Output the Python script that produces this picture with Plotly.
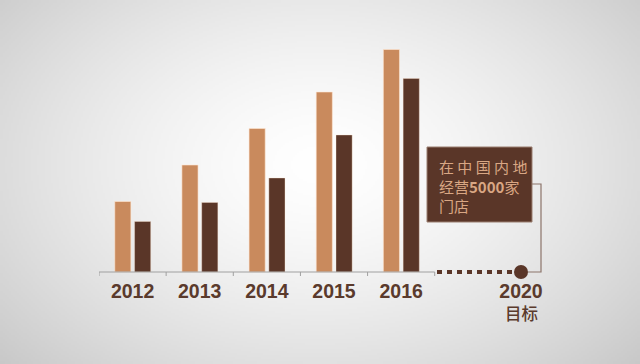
import base64, struct, zlib
import plotly.graph_objects as go

# ---------------- data ----------------
years = ["2012", "2013", "2014", "2015", "2016"]
series_a = [70.5, 107, 143.5, 180, 222.5]      # light bars
series_b = [50.5, 69.5, 94, 137, 193.5]        # dark bars
target_label = "2020"
target_sub = "目标"
target_text = "在 中 国 内 地<br>经营<b>5000</b>家<br>门店"

LIGHT = "#C98A5D"
DARK = "#5A3628"
TXT = "#5A3A2C"

# ---------------- background gradient (pure python png) ----------------
W, H = 320, 182
rows = []
for j in range(H):
    row = bytearray([0])
    y = (j + 0.5) * 364 / H
    for i in range(W):
        x = (i + 0.5) * 640 / W
        r = (((x - 320) / 380) ** 2 + ((y - 165) / 260) ** 2) ** 0.5
        v = 255 - 45 * min(r, 1.2) ** 1.5
        row.append(max(0, min(255, int(v))))
    rows.append(bytes(row))
raw = b"".join(rows)


def chunk(t, d):
    c = struct.pack(">I", len(d)) + t + d
    return c + struct.pack(">I", zlib.crc32(t + d) & 0xFFFFFFFF)


png = b"\x89PNG\r\n\x1a\n" + chunk(b"IHDR", struct.pack(">IIBBBBB", W, H, 8, 0, 0, 0, 0)) \
    + chunk(b"IDAT", zlib.compress(raw, 9)) + chunk(b"IEND", b"")
bg_uri = "data:image/png;base64," + base64.b64encode(png).decode()

# ---------------- layout geometry ----------------
BASE = 272            # pixel row of the baseline
YLOW = 5              # plot area extends a little below the baseline
ML, MR, MT, MB = 99, 71, 0, 364 - BASE - YLOW
PW = 640 - ML - MR
PH = 364 - MT - MB
XR = [-0.5, 6.5]
upx = (XR[1] - XR[0]) / PW


def xpx(px):
    return XR[0] + (px - ML) * upx


def ypx(py):
    return BASE - py


xs = list(range(len(years)))
x_target = xpx(521)

fig = go.Figure()
fig.add_trace(go.Bar(x=xs, y=series_a, width=0.24, offset=-0.265,
                     marker=dict(color=LIGHT, line=dict(color="rgba(255,230,210,0.6)", width=1)),
                     showlegend=False, hoverinfo="skip"))
fig.add_trace(go.Bar(x=xs, y=series_b, width=0.24, offset=0.03,
                     marker=dict(color=DARK, line=dict(color="rgba(255,230,210,0.35)", width=1)),
                     showlegend=False, hoverinfo="skip"))

shapes = [
    # axis line
    dict(type="line", x0=-0.5, x1=4.5, y0=0, y1=0, xref="x", yref="y",
         line=dict(color="#A0A0A0", width=1)),
    # dotted target line
    dict(type="line", x0=xpx(437), x1=x_target, y0=0, y1=0, xref="x", yref="y",
         line=dict(color=DARK, width=4, dash="5px,5px")),
    # target box
    dict(type="rect", x0=xpx(427), x1=xpx(532), y0=ypx(222), y1=ypx(147), xref="x", yref="y",
         fillcolor=DARK, line=dict(color="#9A7E70", width=1), layer="above"),
    # bracket connector
    dict(type="path", xref="x", yref="y",
         path=f"M {xpx(532)} {ypx(184)} L {xpx(541)} {ypx(184)} L {xpx(541)} 0 L {xpx(528)} 0",
         line=dict(color="#8C746A", width=1.2)),
]

fig.add_trace(go.Scatter(x=[x_target], y=[0], mode="markers",
                         marker=dict(size=14, color=DARK, line=dict(width=0)), cliponaxis=False,
                         showlegend=False, hoverinfo="skip"))

annotations = [
    dict(x=xpx(438), y=ypx(186), xref="x", yref="y", text=target_text, showarrow=False,
         xanchor="left", yanchor="middle", align="left", borderpad=0,
         font=dict(family="Noto Sans CJK SC", size=15, color="#D9A784")),
    dict(x=x_target, y=(364 - MB - 313) / PH, xref="x", yref="paper", text=target_sub,
         showarrow=False, xanchor="center", yanchor="middle", borderpad=0,
         font=dict(family="Noto Sans CJK SC", size=16.5, color=TXT, weight=500)),
]

fig.update_layout(
    width=640, height=364,
    margin=dict(l=ML, r=MR, t=MT, b=MB, pad=0),
    paper_bgcolor="#FFFFFF", plot_bgcolor="rgba(0,0,0,0)",
    barmode="overlay",
    shapes=shapes, annotations=annotations,
    images=[dict(source=bg_uri, xref="paper", yref="paper",
                 x=-ML / PW, y=1 + MT / PH, sizex=640 / PW, sizey=364 / PH,
                 xanchor="left", yanchor="top", sizing="stretch", layer="below")],
    xaxis=dict(range=XR, showgrid=False, zeroline=False, showline=False,
               tickmode="array", tickvals=xs + [x_target], ticktext=years + [target_label],
               ticks="", ticklabelstandoff=0,
               tickfont=dict(family="Liberation Sans", size=19.5, color=TXT, weight="bold"),
               minor=dict(tickmode="array", tickvals=[i - 0.5 for i in range(len(years) + 1)],
                          ticks="", showgrid=False)),
    yaxis=dict(range=[-YLOW, BASE], visible=False, showgrid=False, zeroline=False),
)

# boundary tick marks on the baseline
for i in range(len(years) + 1):
    fig.add_shape(type="line", x0=i - 0.5, x1=i - 0.5, y0=0, y1=-4, xref="x", yref="y",
                  line=dict(color="#A0A0A0", width=1))

fig.write_html("out.html")
